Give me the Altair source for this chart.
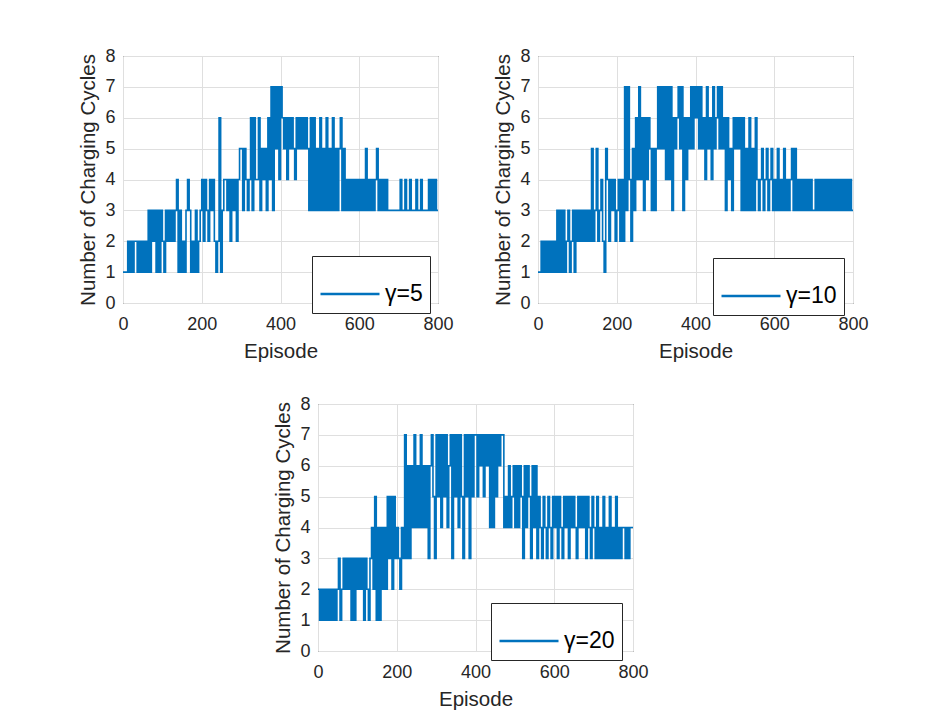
import altair as alt
import pandas as pd

# Values: each string covers 100 episodes, one digit every 4 episodes
gamma5_blocks = [
    "1112121221212121313231313",
    "2132323234131213431213123",
    "4243243421261344342434245",
    "5354346364463545364737574",
    "7656465654656565653636353",
    "6353635363535635343434343",
    "4343534343453434343333333",
    "3433433433343343333434343",
]
gamma10_blocks = [
    "1121212121213131312312313",
    "2323232325235234215424342",
    "3424273742536474636465353",
    "5757574747365675736465757",
    "6757564756475675756364536",
    "5656363536353643453453453",
    "4353435343453534343434343",
    "3434343434343434343434343",
]
gamma20_blocks = [
    "2121212121212312323231313",
    "2323132134251414242535253",
    "4324373636474647464636753",
    "7574757467375747537573757",
    "7576757674747576774546456",
    "4646536465364635435435435",
    "4535435453545435454535435",
    "4353435343534353434434344",
]
last_values = [3, 3, 4]
series_labels = ["γ=5", "γ=10", "γ=20"]
x_ticks = [0, 200, 400, 600, 800]
y_ticks = [0, 1, 2, 3, 4, 5, 6, 7, 8]

BLUE = "#0072BD"
DARK = "#262626"
FONT = "Liberation Sans"


def to_frame(blocks, last, label):
    rows = []
    for b, s in enumerate(blocks):
        for k, ch in enumerate(s):
            rows.append({"episode": b * 100 + k * 4, "cycles": int(ch), "series": label})
    rows.append({"episode": 800, "cycles": last, "series": label})
    return pd.DataFrame(rows)


def panel(df, label, lx, ly):
    return alt.Chart(df).mark_line(strokeWidth=1.6, interpolate="step-after", clip=True).encode(
        x=alt.X("episode:Q",
                scale=alt.Scale(domain=[0, 800], nice=False),
                axis=alt.Axis(values=x_ticks, title="Episode", format="d", labelFlush=False)),
        y=alt.Y("cycles:Q",
                scale=alt.Scale(domain=[0, 8], nice=False),
                axis=alt.Axis(values=y_ticks, title="Number of Charging Cycles", format="d",
                              labelFlush=False)),
        color=alt.Color("series:N",
                        scale=alt.Scale(domain=[label], range=[BLUE]),
                        legend=alt.Legend(orient="none", legendX=lx, legendY=ly, title=None,
                                          symbolType="stroke", symbolSize=3481,
                                          symbolStrokeWidth=2.6, symbolStrokeColor=BLUE,
                                          labelFont=FONT, labelFontSize=23, labelColor="#000000",
                                          labelOffset=4, padding=7,
                                          strokeColor=DARK, fillColor="#FFFFFF")),
    ).properties(width=315, height=247)


p1 = panel(to_frame(gamma5_blocks, last_values[0], series_labels[0]), series_labels[0], 189, 200)
p2 = panel(to_frame(gamma10_blocks, last_values[1], series_labels[1]), series_labels[1], 175, 202)
p3 = panel(to_frame(gamma20_blocks, last_values[2], series_labels[2]), series_labels[2], 173, 199)

blank = alt.Chart(pd.DataFrame({"v": [0]})).mark_point(opacity=0).encode(
    x=alt.X("v:Q", axis=None),
    y=alt.Y("v:Q", axis=None),
).properties(width=95, height=247, view=alt.ViewBackground(strokeOpacity=0))

row1 = alt.hconcat(p1, p2, spacing=100, bounds="flush").resolve_scale(color="independent")
row2 = alt.hconcat(blank, p3, spacing=100, bounds="flush").resolve_scale(color="independent")

chart = alt.vconcat(row1, row2, spacing=32).resolve_scale(color="independent").properties(
    padding={"left": 70, "top": 38, "right": 10, "bottom": 5}
).configure_view(
    stroke=DARK, strokeWidth=1
).configure_axis(
    grid=True, gridColor="#DFDFDF", gridWidth=1,
    ticks=False, domain=False,
    labelFont=FONT, labelFontSize=18, labelColor=DARK,
    titleFont=FONT, titleFontSize=20.5, titleFontWeight="normal", titleColor=DARK,
).configure_axisX(
    labelPadding=12, titlePadding=8
).configure_axisY(
    labelPadding=8, titlePadding=6
)

chart.save("out.html", embed_options={"renderer": "svg", "actions": False})
